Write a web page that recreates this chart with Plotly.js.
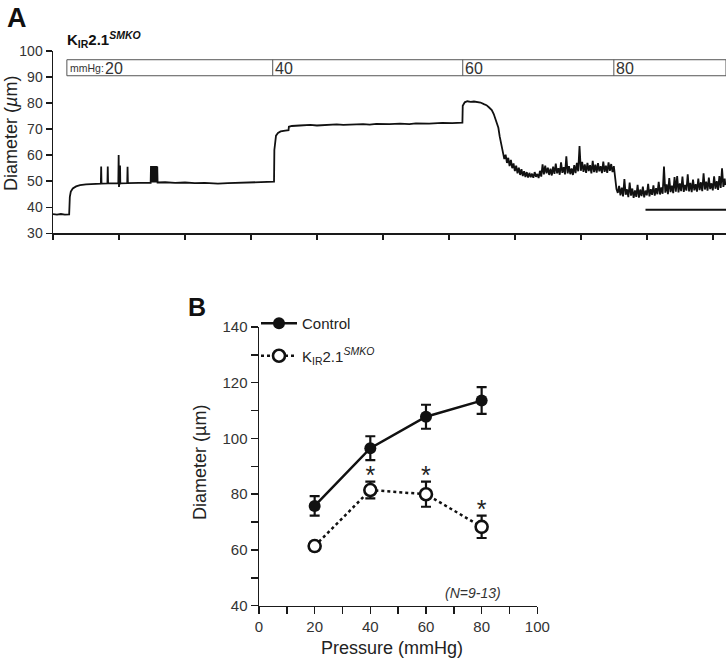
<!DOCTYPE html>
<html>
<head>
<meta charset="utf-8">
<script src="https://cdn.plot.ly/plotly-3.0.1.min.js"></script>
<style>html,body{margin:0;padding:0;background:#fff;}#chart{width:728px;height:660px;}</style>
</head>
<body>
<div id="chart"></div>
<script>
// ---------- Panel A: diameter trace (KIR2.1 SMKO) ----------
const traceTime = [
  0, 0.06, 0.12, 0.18, 0.245, 0.255, 0.27, 0.30, 0.35, 0.41, 0.50, 0.60,
  0.725, 0.73, 0.735, 0.825, 0.83, 0.835, 0.99, 0.995, 1.0, 1.005, 1.012, 1.016, 1.02,
  1.125, 1.13, 1.135, 1.30, 1.48,
  1.485, 1.49, 1.496, 1.502, 1.508, 1.514, 1.52, 1.526, 1.532, 1.538, 1.544, 1.55, 1.556, 1.562, 1.568, 1.574, 1.58, 1.585,
  1.70, 1.85, 2.0, 2.15, 2.3, 2.5, 2.65, 2.8, 3.0, 3.15, 3.345,
  3.35, 3.355, 3.365, 3.38, 3.41, 3.45, 3.52, 3.57, 3.575, 3.62, 3.74, 3.9, 4.0, 4.1, 4.3, 4.4, 4.5, 4.7, 4.8, 4.9,
  5.1, 5.26, 5.4, 5.5, 5.7, 5.8, 5.9, 6.05, 6.205,
  6.21, 6.24, 6.28, 6.33, 6.38, 6.43, 6.48, 6.53, 6.57, 6.61, 6.65, 6.68, 6.70, 6.73, 6.75, 6.77, 6.79, 6.81,
  6.84, 6.86, 6.88, 6.90, 6.92, 6.94, 6.96, 6.98, 7.00, 7.02, 7.04, 7.06, 7.08, 7.10, 7.12, 7.14, 7.16, 7.18, 7.20,
  7.22, 7.24, 7.26, 7.28, 7.30, 7.32, 7.34, 7.36, 7.38, 7.40,
  7.42, 7.44, 7.46, 7.48, 7.50, 7.52, 7.54, 7.56, 7.58, 7.60,
  7.62, 7.64, 7.66, 7.68, 7.70, 7.72, 7.74, 7.76, 7.78, 7.80,
  7.82, 7.84, 7.86, 7.88, 7.90, 7.92, 7.94, 7.96, 7.98, 8.00,
  8.02, 8.04, 8.06, 8.08, 8.10, 8.12, 8.14, 8.16, 8.18, 8.20,
  8.22, 8.24, 8.26, 8.28, 8.30, 8.32, 8.34, 8.36, 8.38, 8.40,
  8.42, 8.44, 8.46, 8.48, 8.50,
  8.52, 8.54, 8.56, 8.58, 8.60, 8.62, 8.64, 8.66, 8.68, 8.70,
  8.72, 8.74, 8.76, 8.78, 8.80, 8.82, 8.84, 8.86, 8.88, 8.90,
  8.92, 8.94, 8.96, 8.98, 9.00, 9.02, 9.04, 9.06, 9.08, 9.10,
  9.12, 9.14, 9.16, 9.18, 9.20, 9.22, 9.24, 9.26, 9.28, 9.30,
  9.32, 9.34, 9.36, 9.38, 9.40, 9.42, 9.44, 9.46, 9.48, 9.50,
  9.52, 9.54, 9.56, 9.58, 9.60, 9.62, 9.64, 9.66, 9.68, 9.70,
  9.72, 9.74, 9.76, 9.78, 9.80, 9.82, 9.84, 9.86, 9.88, 9.90,
  9.92, 9.94, 9.96, 9.98, 10.00, 10.02, 10.04, 10.06, 10.08, 10.10,
  10.12, 10.14, 10.16, 10.18, 10.19
];
const traceDiam = [
  37.4, 37.2, 37.4, 37.2, 37.3, 44.0, 46.0, 47.2, 48.0, 48.5, 48.8, 49.0,
  49.1, 55.6, 49.1, 49.2, 55.6, 49.2, 49.2, 60.1, 47.8, 49.3, 49.2, 56.0, 49.2,
  49.3, 55.5, 49.3, 49.4, 49.4,
  55.8, 49.5, 55.8, 49.5, 55.8, 49.5, 55.8, 49.5, 55.8, 49.5, 55.8, 49.5, 55.8, 49.5, 55.8, 49.5, 55.6, 49.5,
  49.6, 49.4, 49.5, 49.3, 49.4, 49.1, 49.3, 49.4, 49.5, 49.4, 49.6,
  49.8, 62.0, 66.0, 67.5, 68.5, 69.1, 69.4, 69.6, 70.9, 71.2, 71.4, 71.6, 71.4, 71.6, 71.8, 71.6, 71.7, 71.9, 71.7, 72.0,
  71.9, 72.1, 71.9, 72.2, 72.1, 72.3, 72.4, 72.3, 72.5,
  79.0, 80.3, 80.7, 80.5, 80.6, 80.3, 80.2, 79.6, 79.2, 78.3, 77.3, 75.8, 74.2, 72.0, 70.5, 67.2, 64.5, 62.0,
  58.5, 60.2, 57.0, 59.0, 55.8, 58.2, 55.0, 56.8, 53.9, 56.0, 53.0, 55.2, 52.4, 54.6, 52.0, 53.8, 51.6, 53.5, 51.4,
  53.2, 51.5, 52.9, 51.3, 53.5, 51.7, 52.8, 51.2, 54.0, 51.8,
  56.5, 52.6, 56.0, 53.0, 55.2, 52.4, 54.8, 52.2, 55.6, 52.8,
  56.8, 53.0, 55.0, 52.5, 57.2, 53.2, 55.4, 52.6, 59.6, 53.0,
  55.8, 52.7, 54.9, 52.4, 56.2, 53.1, 57.0, 53.8, 63.5, 54.0,
  57.4, 53.6, 56.5, 53.2, 57.0, 53.9, 56.2, 53.0, 57.8, 53.5,
  56.4, 53.3, 56.9, 53.8, 55.8, 53.1, 57.5, 53.6, 56.0, 53.2,
  57.2, 54.0, 56.6, 53.5, 55.8,
  50.5, 47.0, 45.5, 48.2, 44.6, 47.5, 44.2, 50.8, 44.8, 46.9,
  43.9, 49.5, 44.5, 47.2, 43.6, 46.5, 44.0, 48.6, 43.7, 46.8,
  44.3, 47.9, 43.8, 46.4, 44.6, 49.0, 44.2, 46.9, 44.8, 48.4,
  44.5, 47.3, 45.0, 49.8, 44.9, 47.6, 45.2, 55.6, 45.6, 48.8,
  45.0, 51.2, 45.8, 48.3, 45.4, 51.6, 46.0, 52.0, 45.7, 49.2,
  46.2, 51.8, 45.9, 48.6, 46.4, 52.6, 46.1, 49.4, 45.8, 50.6,
  46.5, 48.9, 46.0, 51.0, 46.6, 49.6, 46.2, 53.0, 46.8, 49.8,
  46.4, 51.4, 47.0, 49.2, 46.5, 51.9, 47.1, 50.0, 46.7, 52.0,
  47.4, 55.0, 47.8, 51.0, 48.5
];
// pressure steps (mmHg) and the time (min) each step starts
const pressureSteps = [20, 40, 60, 80];
const stepTimes = [0.21, 3.33, 6.21, 8.5];
const barEnd = 10.2;
const scaleBarStart = 8.98, scaleBarEnd = 10.2, scaleBarLevel = 39;

// ---------- Panel B: pressure-diameter ----------
const pressure = [20, 40, 60, 80];
const controlMean = [75.8, 96.5, 107.8, 113.6];
const controlErr  = [3.5, 4.3, 4.3, 4.8];
const koMean = [61.4, 81.5, 80.0, 68.3];
const koErr  = [1.5, 3.0, 4.5, 4.0];
const koSignificant = [false, true, true, true];

const W = 728, H = 660;
const px = v => v / W;
const py = v => 1 - v / H;
const FONT = 'Liberation Sans, Arial, Helvetica, sans-serif';
const INK = '#1a1a1a';

const data = [
  {
    x: traceTime, y: traceDiam, type: 'scatter', mode: 'lines',
    xaxis: 'x', yaxis: 'y', showlegend: false, hoverinfo: 'skip',
    line: {color: '#111', width: 1.8}
  },
  {
    x: pressure, y: controlMean, type: 'scatter', mode: 'lines+markers',
    xaxis: 'x2', yaxis: 'y2', name: 'Control', legendgroup: 'a',
    line: {color: '#111', width: 2.5},
    marker: {color: '#111', size: 12, line: {color: '#111', width: 0}},
    error_y: {type: 'data', array: controlErr, visible: true, color: '#111', thickness: 2.2, width: 5}
  },
  {
    x: pressure, y: koMean, type: 'scatter', mode: 'lines+markers',
    xaxis: 'x2', yaxis: 'y2', name: 'K<sub>IR</sub>2.1<sup><i>SMKO</i></sup>', legendgroup: 'b',
    line: {color: '#111', width: 2.5, dash: 'dot'},
    marker: {color: '#fff', size: 12, line: {color: '#111', width: 2.6}},
    error_y: {type: 'data', array: koErr, visible: true, color: '#111', thickness: 2.2, width: 5}
  },
  {
    x: pressure.filter((p, i) => koSignificant[i]),
    y: koMean.map((m, i) => m + koErr[i] + 1.5).filter((v, i) => koSignificant[i]),
    type: 'scatter', mode: 'text', text: ['*', '*', '*'],
    textposition: 'middle center', xaxis: 'x2', yaxis: 'y2', showlegend: false, hoverinfo: 'skip',
    textfont: {family: FONT, size: 25, color: '#222'}
  }
];

const shapes = [
  // pressure bar
  {type: 'rect', xref: 'x', yref: 'y', x0: stepTimes[0], x1: barEnd, y0: 90.5, y1: 96.65,
   line: {color: '#555', width: 1}, fillcolor: 'rgba(0,0,0,0)'},
  ...stepTimes.slice(1).map(t => ({type: 'line', xref: 'x', yref: 'y', x0: t, x1: t, y0: 90.5, y1: 96.65,
   line: {color: '#555', width: 1}})),
  // scale bar
  {type: 'line', xref: 'x', yref: 'y', x0: scaleBarStart, x1: scaleBarEnd, y0: scaleBarLevel, y1: scaleBarLevel,
   line: {color: '#111', width: 2}}
];

const annotations = [
  {text: '<b>A</b>', xref: 'paper', yref: 'paper', x: px(5), y: py(18), xanchor: 'left', yanchor: 'middle',
   showarrow: false, font: {family: FONT, size: 27, color: '#111'}},
  {text: '<b>B</b>', xref: 'paper', yref: 'paper', x: px(186), y: py(307), xanchor: 'left', yanchor: 'middle',
   showarrow: false, font: {family: FONT, size: 25, color: '#111'}},
  {text: '<b>K<sub>IR</sub>2.1<sup><i>SMKO</i></sup></b>', xref: 'paper', yref: 'paper', x: px(65), y: py(40),
   xanchor: 'left', yanchor: 'middle', showarrow: false, font: {family: FONT, size: 15, color: '#111'}},
  {text: 'mmHg:', xref: 'x', yref: 'y', x: stepTimes[0], y: 93.6, xanchor: 'left', yanchor: 'middle', xshift: 1,
   showarrow: false, font: {family: FONT, size: 10.5, color: '#333'}},
  ...pressureSteps.map((p, i) => ({text: String(p), xref: 'x', yref: 'y', x: stepTimes[i], y: 93.4,
   xanchor: 'left', yanchor: 'middle', xshift: i === 0 ? 36 : 0, showarrow: false,
   font: {family: FONT, size: 16, color: '#333'}})),
  {text: 'Diameter (<i>µ</i>m)', xref: 'paper', yref: 'paper', x: px(11), y: py(134), textangle: -90,
   xanchor: 'center', yanchor: 'middle', showarrow: false, font: {family: FONT, size: 18, color: '#222'}},
  {text: 'Diameter (µm)', xref: 'paper', yref: 'paper', x: px(200), y: py(463), textangle: -90,
   xanchor: 'center', yanchor: 'middle', showarrow: false, font: {family: FONT, size: 18, color: '#222'}},
  {text: 'Pressure (mmHg)', xref: 'paper', yref: 'paper', x: px(392), y: py(648),
   xanchor: 'center', yanchor: 'middle', showarrow: false, font: {family: FONT, size: 18, color: '#222'}},
  {text: '<i>(N=9-13)</i>', xref: 'x2', yref: 'y2', x: 77, y: 44.6, xanchor: 'center', yanchor: 'middle',
   showarrow: false, font: {family: FONT, size: 14, color: '#333'}}
];

const axisCommon = {
  showline: true, linecolor: INK, linewidth: 1.5, ticks: 'outside', tickcolor: INK, tickwidth: 1.5,
  showgrid: false, zeroline: false, fixedrange: true,
  tickfont: {family: FONT, size: 14, color: '#333'}
};

const layout = {
  width: W, height: H, margin: {l: 0, r: 0, t: 0, b: 0},
  paper_bgcolor: '#fff', plot_bgcolor: 'rgba(0,0,0,0)',
  font: {family: FONT, color: '#222'},
  xaxis: Object.assign({}, axisCommon, {domain: [px(53), px(726)], range: [0, 10.2], anchor: 'y',
    tick0: 0, dtick: 1, ticklen: 5, showticklabels: false}),
  yaxis: Object.assign({}, axisCommon, {domain: [py(233.3), py(51)], range: [30, 100], anchor: 'x',
    tick0: 30, dtick: 10, ticklen: 6}),
  xaxis2: Object.assign({}, axisCommon, {domain: [px(259), px(537.3)], range: [0, 100], anchor: 'y2',
    tick0: 0, dtick: 20, ticklen: 7, tickfont: {family: FONT, size: 15, color: '#333'},
    minor: {dtick: 10, ticks: 'outside', ticklen: 7, tickwidth: 1.5, tickcolor: INK, showgrid: false}}),
  yaxis2: Object.assign({}, axisCommon, {domain: [py(605.7), py(327)], range: [40, 140], anchor: 'x2',
    tick0: 40, dtick: 20, ticklen: 7, tickfont: {family: FONT, size: 15, color: '#333'},
    minor: {dtick: 10, ticks: 'outside', ticklen: 7, tickwidth: 1.5, tickcolor: INK, showgrid: false}}),
  showlegend: true,
  legend: {x: px(256), y: py(307), xanchor: 'left', yanchor: 'top', bgcolor: 'rgba(0,0,0,0)',
    borderwidth: 0, traceorder: 'grouped', tracegroupgap: 10, itemwidth: 36,
    font: {family: FONT, size: 15, color: '#222'}},
  shapes: shapes,
  annotations: annotations
};

Plotly.newPlot('chart', data, layout, {displayModeBar: false, staticPlot: true});
</script>
</body>
</html>
